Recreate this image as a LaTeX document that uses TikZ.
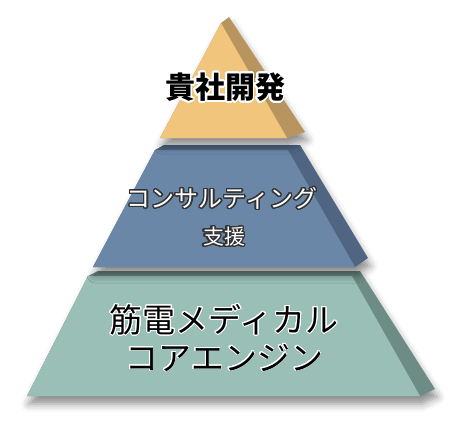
\documentclass[tikz,border=0pt]{standalone}
\usepackage{fontspec}
\newfontfamily\jp{Noto Sans CJK JP}
\usepackage{contour}
\contournumber{32}
\usetikzlibrary{shadows.blur}
\definecolor{topF}{HTML}{F2C57D}
\definecolor{topS}{HTML}{B8955F}
\definecolor{midF}{HTML}{6B87A8}
\definecolor{midS}{HTML}{4F6582}
\definecolor{botF}{HTML}{99BFB7}
\definecolor{botS}{HTML}{6D8C85}
\definecolor{outl}{HTML}{333333}
\tikzset{
  layershadow/.style={blur shadow={shadow xshift=2pt, shadow yshift=-8pt, shadow blur radius=8pt, shadow opacity=45}},
  lbl/.style={inner sep=0pt, align=center}
}
\begin{document}
\begin{tikzpicture}[x=1pt,y=-1pt]
\useasboundingbox (0,0) rectangle (466,424);
% bottom layer
\fill[botS, layershadow] (27,396) -- (88,276) -- (98,271) -- (360,271) -- (435,389) -- (420,396) -- cycle;
\fill[botF] (27,396) -- (88,276) -- (352,276) -- (420,396) -- cycle;
% middle layer
\fill[midS, layershadow] (93,267) -- (155,150) -- (164,145) -- (300,145) -- (368,258) -- (355,267) -- cycle;
\fill[midF] (93,267) -- (155,150) -- (288,150) -- (355,267) -- cycle;
% top layer
\fill[topS, layershadow] (160,138) -- (221,23) -- (229,17) -- (305,132) -- (287,138) -- cycle;
\fill[topF] (160,138) -- (221,23) -- (287,138) -- cycle;
% texts
\contourlength{1.6pt}
\node[lbl, font=\jp\bfseries\fontsize{30}{34}\selectfont] (t1) at (225,88) {\contour{white}{貴社開発}};
\contourlength{1.3pt}
\node[lbl, text=white, font=\jp\fontsize{24}{28}\selectfont] (t2) at (222,199) {\contour{outl}{コンサルティング}};
\node[lbl, text=white, font=\jp\fontsize{21}{25}\selectfont] (t3) at (224,237) {\contour{outl}{支援}};
\contourlength{0.8pt}
\node[lbl, font=\jp\fontsize{33}{37}\selectfont] (t4) at (224,320) {\contour{white}{筋電メディカル}};
\node[lbl, font=\jp\fontsize{33}{37}\selectfont] (t5) at (224,358) {\contour{white}{コアエンジン}};
\end{tikzpicture}
\end{document}
